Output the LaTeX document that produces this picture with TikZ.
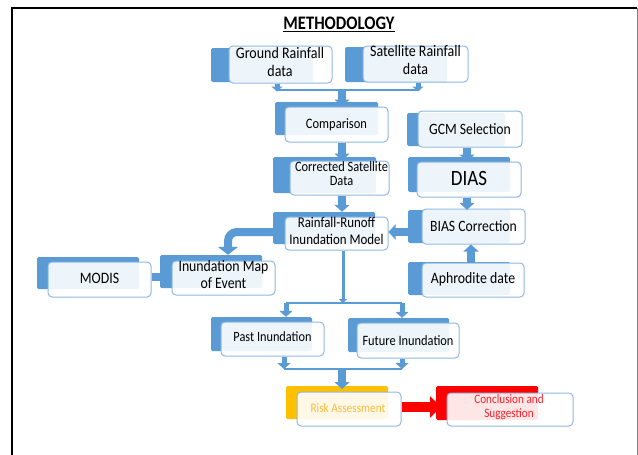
\documentclass[tikz,border=0pt]{standalone}
\usepackage{fontspec}
\setmainfont{Carlito}
\usepackage{graphicx}
\usetikzlibrary{arrows.meta,fit}
\definecolor{bm}{HTML}{5B9BD5}
\definecolor{bl}{HTML}{8FB8E0}
\definecolor{orng}{HTML}{FFC000}
\definecolor{orngtxt}{HTML}{F5BE3C}
\definecolor{rd}{HTML}{FF0000}
\definecolor{rdtxt}{HTML}{F5222D}
\newcommand\vs[1]{\scalebox{1}[1.15]{#1}}
\newcommand\two[2]{\vs{\begin{tabular}{@{}c@{}}#1\\#2\end{tabular}}}
\newcommand\fs[2]{\fontsize{#1}{#2}\selectfont}
\tikzset{
  backbox/.style={fill=#1, draw=none, inner sep=0pt, rounded corners=1.5pt},
  backbox/.default=bm,
  frontbox/.style={draw=bl, line width=1pt, fill=white, fill opacity=0.9,
    rounded corners=4pt, inner sep=0pt},
  txt/.style={inner sep=0pt, text=black},
  bline/.style={draw=bm, line width=2pt},
  sarrow/.style={draw=bm, line width=5pt, -{Triangle[width=11pt,length=5pt]}},
  sarrowb/.style={draw=bm, line width=5pt, -{Triangle[width=13pt,length=6pt]}},
  barrow/.style={draw=bm, line width=8pt, -{Triangle[width=15pt,length=7pt]}},
  barrowb/.style={draw=bm, line width=8pt, -{Triangle[width=20pt,length=8pt]}},
  rarrow/.style={draw=rd, line width=10pt, -{Triangle[width=21pt,length=11pt]}}
}
\begin{document}
\begin{tikzpicture}[x=1pt,y=-1pt]
\useasboundingbox (0,0) rectangle (638,455);
\fill[white] (0,0) rectangle (638,455);
\draw[black, line width=2pt] (12,455) -- (12,7.8) -- (637,7.8);
\draw[gray, line width=1pt] (637,8) -- (637,455);

\node[txt] (title) at (339,24) {\vs{\fs{16.6}{18}\bfseries\underline{METHODOLOGY}}};

% boxes
\node[backbox, fit={(211,48)(313,82)}] (grB) {};
\node[frontbox, fit={(229,46)(332,83)}] (gr) {};
\node[txt, font=\fs{14}{15.6}] (grT) at ([xshift=-0.5pt,yshift=0.5pt]gr.center) {\two{Ground Rainfall}{data}};
\node[backbox, fit={(345,47)(447,82)}] (srB) {};
\node[frontbox, fit={(363,46)(468,82)}] (sr) {};
\node[txt, font=\fs{14}{15.6}] (srT) at ([yshift=2pt]sr.center) {\two{Satellite Rainfall}{data}};
\node[backbox, fit={(275,102)(378,135)}] (cmpB) {};
\node[frontbox, fit={(285,107)(388,142)}] (cmp) {};
\node[txt, font=\fs{12.5}{14}] (cmpT) at (cmp.center) {\vs{Comparison}};
\node[backbox, fit={(273,157)(376,193)}] (csdB) {};
\node[frontbox, fit={(290,161)(389,195)}] (csd) {};
\node[txt, font=\fs{12.4}{13}] (csdT) at ([xshift=2pt,yshift=2.5pt]csd.center) {\two{Corrected Satellite}{Data}};
\node[backbox, fit={(407,113)(505,146)}] (gcmB) {};
\node[frontbox, fit={(418,111)(522,147)}] (gcm) {};
\node[txt, font=\fs{13.7}{15}] (gcmT) at (gcm.center) {\vs{GCM Selection}};
\node[backbox, fit={(408,157)(510,192)}] (diasB) {};
\node[frontbox, fit={(417,162)(521,197)}] (dias) {};
\node[txt, font=\fs{19}{21}] (diasT) at ([yshift=1pt]dias.center) {\vs{DIAS}};
\node[backbox, fit={(273,212)(375,244)}] (rrB) {};
\node[frontbox, fit={(285,217)(388,250)}] (rr) {};
\node[txt, font=\fs{12.9}{14.8}] (rrT) at ([yshift=1pt]rr.center) {\two{Rainfall-Runoff}{Inundation Model}};
\node[backbox, fit={(408,210)(510,243)}] (biasB) {};
\node[frontbox, fit={(422,209)(525,244)}] (bias) {};
\node[txt, font=\fs{13.7}{15}] (biasT) at (bias.center) {\vs{BIAS Correction}};
\node[backbox, fit={(408,262)(510,295)}] (aphB) {};
\node[frontbox, fit={(422,263)(524,297)}] (aph) {};
\node[txt, font=\fs{13.8}{15}] (aphT) at ([yshift=1pt]aph.center) {\vs{Aphrodite date}};
\node[backbox, fit={(37,257)(139,289)}] (modisB) {};
\node[frontbox, fit={(48,262)(151,297)}] (modis) {};
\node[txt, font=\fs{13.8}{15}] (modisT) at ([yshift=1.5pt]modis.center) {\vs{MODIS}};
\node[backbox, fit={(160,255)(262,288)}] (imapB) {};
\node[frontbox, fit={(172,261)(275,295)}] (imap) {};
\node[txt, font=\fs{13.8}{14.8}] (imapT) at ([yshift=1.5pt]imap.center) {\two{Inundation Map}{of Event}};
\node[backbox, fit={(211,317)(312,351)}] (pastB) {};
\node[frontbox, fit={(221,322)(324,356)}] (past) {};
\node[txt, font=\fs{12.3}{14}] (pastT) at ([yshift=2pt]past.center) {\vs{Past Inundation}};
\node[backbox, fit={(348,318)(449,352)}] (futB) {};
\node[frontbox, fit={(357,323)(459,358)}] (fut) {};
\node[txt, font=\fs{12.4}{14}] (futT) at (fut.center) {\vs{Future Inundation}};
\node[backbox=orng, fit={(286,386)(388,419)}] (riskB) {};
\node[frontbox, fit={(297,392)(401,426)}] (risk) {};
\node[txt, font=\fs{11.3}{12.5}, text=orngtxt] (riskT) at ([xshift=-1pt,yshift=1pt]risk.center) {\vs{Risk Assessment}};
\node[backbox=rd, fit={(436,386)(538,420)}] (conclB) {};
\node[frontbox, fit={(447,393)(573,426)}] (concl) {};
\node[txt, font=\fs{11.2}{12.2}, text=rdtxt] (conclT) at ([xshift=-1pt,yshift=1.5pt]concl.center) {\two{Conclusion and}{Suggestion}};

% junction coordinates
\coordinate (jA) at (277,90);
\coordinate (jB) at (418,90);
\coordinate (jM) at (342,90);
\coordinate (g) at (467,0);
\coordinate (ap) at (471,0);
\coordinate (hy) at (0,232);
\coordinate (k) at (228,232);
\coordinate (my) at (0,277);
\coordinate (jP) at (286,303);
\coordinate (jF) at (402,303);
\coordinate (jC) at (343,303);
\coordinate (kP) at (284,369);
\coordinate (kF) at (402,369);
\coordinate (kC) at (342,369);
\coordinate (kE) at (342,389);
\coordinate (ry) at (0,407);
\coordinate (rt) at (441,407);

% connectors
\draw[bline] (jA) -- (jB);
\draw[sarrow] (gr.south -| jA) -- ([yshift=-1.5pt]jA);
\draw[sarrow] (sr.south -| jB) -- ([yshift=-1.5pt]jB);
\draw[barrow] (jM) -- (jM |- cmp.north);
\draw[barrow] (cmp.south -| jM) -- (csd.north -| jM);
\draw[barrow] (csd.south -| jM) -- (rrB.north -| jM);
\draw[barrow] (gcm.south -| g) -- (dias.north -| g);
\draw[barrow] (dias.south -| g) -- (biasB.north -| g);
\draw[barrow] (aph.north -| ap) -- (bias.south -| ap);
\draw[barrow] (biasB.west |- hy) -- (rr.east |- hy);
\draw[barrowb, rounded corners=9pt] (rrB.west |- hy) -- (k) -- (k |- imapB.north);
\draw[barrowb] (modis.east |- my) -- (imap.west |- my);
\draw[draw=bm, line width=3pt, -{Triangle[width=8pt,length=4pt]}] (rr.south -| jC) -- (jC);
\draw[bline] (jP) -- (jF);
\draw[sarrowb] (jP) -- (jP |- pastB.north);
\draw[sarrowb] (jF) -- (jF |- futB.north);
\draw[sarrowb] (past.south -| kP) -- (kP);
\draw[sarrowb] (fut.south -| kF) -- (kF);
\draw[bline] (kP) -- (kF);
\draw[barrow] (kC) -- (kE);
\draw[rarrow] (risk.east |- ry) -- (rt);
\end{tikzpicture}
\end{document}
